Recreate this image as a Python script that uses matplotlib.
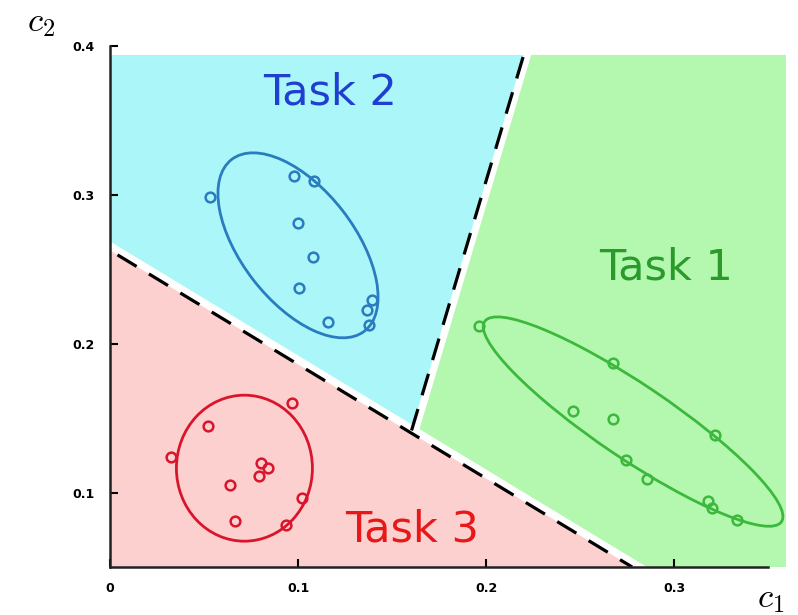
import numpy as np
import matplotlib.pyplot as plt
from matplotlib.patches import Ellipse, Polygon
from matplotlib.transforms import ScaledTranslation

# samples per task (c1, c2)
task1_c1 = [0.1963, 0.2676, 0.2463, 0.2676, 0.3218, 0.2745, 0.2856, 0.3181, 0.3202, 0.3335]
task1_c2 = [0.2121, 0.1872, 0.1550, 0.1497, 0.1389, 0.1221, 0.1094, 0.0946, 0.0899, 0.0819]
task2_c1 = [0.0532, 0.0979, 0.1085, 0.1000, 0.1080, 0.1005, 0.1160, 0.1394, 0.1367, 0.1378]
task2_c2 = [0.2987, 0.3128, 0.3094, 0.2812, 0.2584, 0.2376, 0.2148, 0.2295, 0.2228, 0.2128]
task3_c1 = [0.0324, 0.0521, 0.0968, 0.0803, 0.0840, 0.0793, 0.0638, 0.1021, 0.0665, 0.0936]
task3_c2 = [0.1242, 0.1450, 0.1604, 0.1201, 0.1168, 0.1114, 0.1054, 0.0966, 0.0812, 0.0779]

# cluster centres (c1, c2)
centre1 = (0.2782, 0.1477)
centre2 = (0.1000, 0.2661)
centre3 = (0.0715, 0.1164)

# decision boundaries, two end points each
bound12_c1 = [0.2197, 0.1600]
bound12_c2 = [0.3926, 0.1401]
bound3_c1 = [0.0040, 0.2777]
bound3_c2 = [0.2597, 0.0500]

x_ticks = [0, 0.1, 0.2, 0.3]
y_ticks = [0.1, 0.2, 0.3, 0.4]

col1, col2, col3 = '#3cb83c', '#2a7bbf', '#d9152b'
fill1, fill2, fill3 = '#b4f8b0', '#aaf6f8', '#fdd0d0'

TOP, BOTTOM, RIGHT = 0.394, 0.05, 0.3595
GAP_X, GAP_Y = 0.004, 0.006


def slope(xs, ys):
    return (ys[1] - ys[0]) / (xs[1] - xs[0])


def intersect(p, s, q, t):
    # line through p with slope s, line through q with slope t
    A = np.array([[s, -1.0], [t, -1.0]])
    b = np.array([s * p[0] - p[1], t * q[0] - q[1]])
    return tuple(np.linalg.solve(A, b))


s12 = slope(bound12_c1, bound12_c2)
s3 = slope(bound3_c1, bound3_c2)
p12 = (bound12_c1[0], bound12_c2[0])
p3 = (bound3_c1[0], bound3_c2[0])
p3_up = (p3[0], p3[1] + GAP_Y)
p12_right = (p12[0] + GAP_X, p12[1])


def y_on(p, s, x):
    return p[1] + s * (x - p[0])


def x_on(p, s, y):
    return p[0] + (y - p[1]) / s


plt.rcParams['mathtext.fontset'] = 'cm'

fig = plt.figure(figsize=(7.98, 6.15), dpi=100)
ax = fig.add_axes([0.1378, 0.078, 0.853, 0.8472])
ax.set_xlim(0, 0.362)
ax.set_ylim(0.05, 0.4)

cyan = [(0, TOP), (x_on(p12, s12, TOP), TOP), intersect(p12, s12, p3_up, s3),
        (0, y_on(p3_up, s3, 0))]
green = [(x_on(p12_right, s12, TOP), TOP), (RIGHT, TOP), (RIGHT, BOTTOM),
         (x_on(p3_up, s3, BOTTOM), BOTTOM), intersect(p12_right, s12, p3_up, s3)]
pink = [(0, y_on(p3, s3, 0)), (x_on(p3, s3, BOTTOM), BOTTOM), (0, BOTTOM)]
for poly, fc in [(cyan, fill2), (green, fill1), (pink, fill3)]:
    ax.add_patch(Polygon(poly, closed=True, facecolor=fc, edgecolor='none', zorder=0))

ax.plot(bound12_c1, bound12_c2, color='black', lw=2.3, dashes=(7, 4.5), zorder=2)
ax.plot(bound3_c1, bound3_c2, color='black', lw=2.3, dashes=(7, 4.5), zorder=2)

# ellipses: width/height in inches, angle in degrees on screen
for c, w, h, ang, col in [(centre1, 3.58, 0.74, -34, col1),
                          (centre2, 2.17, 1.13, -52.25, col2),
                          (centre3, 1.36, 1.46, 0, col3)]:
    tr = fig.dpi_scale_trans + ScaledTranslation(c[0], c[1], ax.transData)
    ax.add_patch(Ellipse((0, 0), w, h, angle=ang, transform=tr, fill=False,
                         edgecolor=col, lw=2.0, zorder=3))

for xs, ys, col in [(task1_c1, task1_c2, col1), (task2_c1, task2_c2, col2),
                    (task3_c1, task3_c2, col3)]:
    ax.plot(xs, ys, 'o', ms=7, mfc='none', mec=col, mew=1.8, zorder=4)

ax.text(0.117, 0.369, 'Task 2', color='#1f3fd0', fontsize=31, ha='center', va='center')
ax.text(0.296, 0.251, 'Task 1', color='#2a9a2a', fontsize=31, ha='center', va='center')
ax.text(0.1606, 0.0752, 'Task 3', color='#e81818', fontsize=31, ha='center', va='center')

ax.spines['top'].set_visible(False)
ax.spines['right'].set_visible(False)
ax.spines['bottom'].set_bounds(0, 0.35)
for sp in ['left', 'bottom']:
    ax.spines[sp].set_linewidth(1.8)
    ax.spines[sp].set_color('#222222')
ax.set_xticks(x_ticks)
ax.set_xticklabels(['0', '0.1', '0.2', '0.3'])
ax.set_yticks(y_ticks)
ax.set_yticklabels(['0.1', '0.2', '0.3', '0.4'])
ax.tick_params(direction='in', length=6, width=1.5, labelsize=9, pad=11)
for lab in ax.get_xticklabels() + ax.get_yticklabels():
    lab.set_fontweight('bold')

fig.text(0.051, 0.965, r'$c_2$', fontsize=25, ha='center', va='center')
fig.text(0.966, 0.027, r'$c_1$', fontsize=25, ha='center', va='center')

fig.savefig('out.png', dpi=100)
